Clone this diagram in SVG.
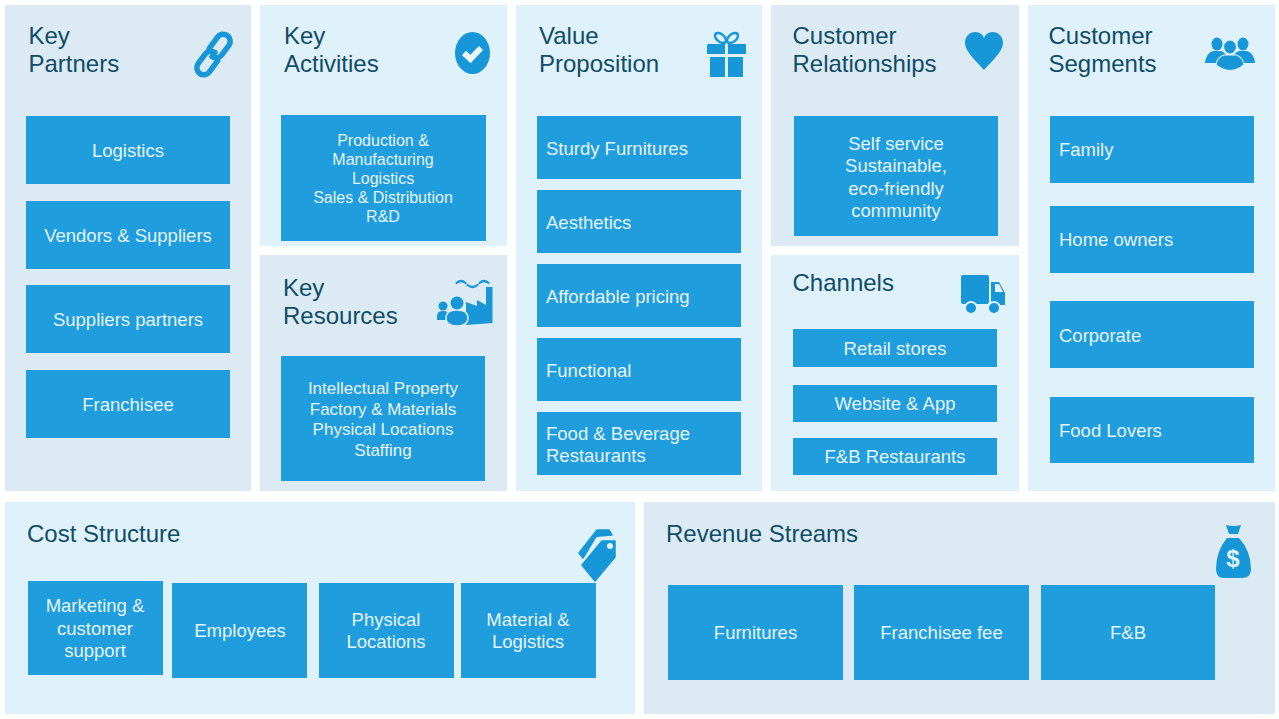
<svg xmlns="http://www.w3.org/2000/svg" width="1279" height="719" viewBox="0 0 1279 719">
<style>
.a{fill:#dcebf3}.b{fill:#dff1fa}
.box{fill:#1f9ddd}
.ic{fill:#1797d8}
text{font-family:"Liberation Sans",Arial,sans-serif}
.t{font-size:24px;fill:#0f4d68}
.l{font-size:18.5px;fill:#e4f4fc;text-anchor:middle}
.s{font-size:18.5px;fill:#e4f4fc}
</style>
<rect width="1279" height="719" fill="#fff"/>
<g id="key-partners">
<rect class="a" x="5" y="5" width="246" height="486"/>
<text class="t" x="28.500" y="44">Key</text><text class="t" x="28.500" y="72">Partners</text>
<g transform="rotate(36 213.500 54.500)" fill="none" stroke="#1797d8" stroke-width="5.500" stroke-linecap="round"><path d="M206.500 52V38a7 7 0 0 1 14 0V50a7 7 0 0 1-7 7"/><path d="M220.500 57V71a7 7 0 0 1-14 0V59a7 7 0 0 1 7-7"/></g>
<rect class="box" x="26" y="116" width="204" height="68"/><text class="l" x="128" y="157">Logistics</text>
<rect class="box" x="26" y="201" width="204" height="68"/><text class="l" x="128" y="241.500">Vendors &amp; Suppliers</text>
<rect class="box" x="26" y="285" width="204" height="68"/><text class="l" x="128" y="326">Suppliers partners</text>
<rect class="box" x="26" y="370" width="204" height="68"/><text class="l" x="128" y="410.500">Franchisee</text>
</g>
<g id="key-activities">
<rect class="b" x="260" y="5" width="247" height="241"/>
<text class="t" x="284" y="44">Key</text><text class="t" x="284" y="72">Activities</text>
<ellipse class="ic" cx="472.500" cy="53" rx="17.500" ry="21"/><path d="M464 53l6.500 6L481 48" fill="none" stroke="#e8f6fd" stroke-width="6"/>
<rect class="box" x="281" y="115" width="205" height="126"/>
<g class="l" style="font-size:16px"><text x="383" y="146">Production &amp;</text><text x="383" y="165">Manufacturing</text><text x="383" y="184">Logistics</text><text x="383" y="203">Sales &amp; Distribution</text><text x="383" y="222">R&amp;D</text></g>
</g>
<g id="key-resources">
<rect class="a" x="260" y="255" width="247" height="236"/>
<text class="t" x="283" y="296">Key</text><text class="t" x="283" y="324">Resources</text>
<path class="ic" d="M466 325V302l11 4v-6l9 5V287h6.500v36z"/>
<path d="M456.500 283q4.500-4 9 0M467.500 285q5 4 10 0M479.500 283q4.500-4 9 0" fill="none" stroke="#1797d8" stroke-width="2.200" stroke-linecap="round"/>
<circle class="ic" cx="443" cy="306" r="4.500"/><path class="ic" d="M437 320v-4q0-5 6-5t6 5v4z"/>
<path class="ic" stroke="#dcebf3" stroke-width="1.500" d="M446 318q0-8 11-8t11 8q0 8-11 8t-11-8z"/>
<circle class="ic" cx="457" cy="303" r="6.500"/>
<rect class="box" x="281" y="356" width="204" height="125"/>
<g class="l" style="font-size:17px"><text x="383" y="394">Intellectual Property</text><text x="383" y="415">Factory &amp; Materials</text><text x="383" y="435">Physical Locations</text><text x="383" y="456">Staffing</text></g>
</g>
<g id="value-proposition">
<rect class="b" x="516" y="5" width="246" height="486"/>
<text class="t" x="539" y="44">Value</text><text class="t" x="539" y="72">Proposition</text>
<path class="ic" d="M708 44h17v10h-18v-9zM728 44h17q1 0 1 1v9h-18zM710 57h15v20h-15zM728 57h15v20h-15z"/>
<g fill="none" stroke="#1797d8" stroke-width="2.500"><ellipse cx="720.500" cy="38" rx="6.500" ry="3.800" transform="rotate(40 720.500 38)"/><ellipse cx="732.500" cy="38" rx="6.500" ry="3.800" transform="rotate(-40 732.500 38)"/></g>
<rect class="box" x="537" y="116" width="204" height="63"/><text class="s" x="546" y="155">Sturdy Furnitures</text>
<rect class="box" x="537" y="190" width="204" height="63"/><text class="s" x="546" y="229">Aesthetics</text>
<rect class="box" x="537" y="264" width="204" height="63"/><text class="s" x="546" y="303">Affordable pricing</text>
<rect class="box" x="537" y="338" width="204" height="63"/><text class="s" x="546" y="377">Functional</text>
<rect class="box" x="537" y="412" width="204" height="63"/><text class="s" x="546" y="440">Food &amp; Beverage</text><text class="s" x="546" y="462">Restaurants</text>
</g>
<g id="customer-relationships">
<rect class="a" x="771" y="5" width="248" height="241"/>
<text class="t" x="792.500" y="44">Customer</text><text class="t" x="792.500" y="72">Relationships</text>
<path class="ic" d="M984 70C975 60 965 51 965 43C965 36 970 32 975 32C980 32 983 35 984 38C985 35 988 32 993 32C998 32 1003 36 1003 43C1003 51 993 60 984 70z"/>
<rect class="box" x="794" y="116" width="204" height="120"/>
<g class="l"><text x="896" y="150">Self service</text><text x="896" y="172">Sustainable,</text><text x="896" y="195">eco-friendly</text><text x="896" y="217">community</text></g>
</g>
<g id="channels">
<rect class="b" x="771" y="255" width="248" height="236"/>
<text class="t" x="792.500" y="291">Channels</text>
<rect class="ic" x="961" y="275" width="28" height="29" rx="2"/>
<path class="ic" d="M991 282h8l6 11v12h-14z"/>
<path d="M995 284h4l4 8h-8z" fill="#e2f3fb"/>
<circle class="b" cx="971" cy="308" r="7"/><circle class="b" cx="994" cy="308" r="7"/>
<circle class="ic" cx="971" cy="308" r="5"/><circle class="ic" cx="994" cy="308" r="5"/>
<rect class="box" x="793" y="329" width="204" height="38"/><text class="l" x="895" y="355">Retail stores</text>
<rect class="box" x="793" y="385" width="204" height="37"/><text class="l" x="895" y="410">Website &amp; App</text>
<rect class="box" x="793" y="438" width="204" height="37"/><text class="l" x="895" y="463">F&amp;B Restaurants</text>
</g>
<g id="customer-segments">
<rect class="b" x="1028" y="5" width="247" height="486"/>
<text class="t" x="1048.500" y="44">Customer</text><text class="t" x="1048.500" y="72">Segments</text>
<ellipse class="ic" cx="1217" cy="44" rx="5.500" ry="6.500"/><ellipse class="ic" cx="1243" cy="44" rx="5.500" ry="6.500"/>
<path class="ic" d="M1205 63q1-10 8-12h8q6 2 8 12zM1255 63q-1-10-8-12h-8q-6 2-8 12z"/>
<ellipse class="ic" cx="1230" cy="47" rx="6.500" ry="7" stroke="#dff1fa" stroke-width="1.200"/>
<path class="ic" stroke="#dff1fa" stroke-width="1.200" d="M1216 65q1-8 8-10h12q7 2 8 10-14 11-28 0z"/>
<rect class="box" x="1050" y="116" width="204" height="67"/><text class="s" x="1059" y="156">Family</text>
<rect class="box" x="1050" y="206" width="204" height="67"/><text class="s" x="1059" y="246">Home owners</text>
<rect class="box" x="1050" y="301" width="204" height="67"/><text class="s" x="1059" y="342">Corporate</text>
<rect class="box" x="1050" y="397" width="204" height="66"/><text class="s" x="1059" y="437">Food Lovers</text>
</g>
<g id="cost-structure">
<rect class="b" x="5" y="502" width="630" height="212"/>
<text class="t" x="27" y="542">Cost Structure</text>
<path class="ic" stroke="#1797d8" stroke-width="1.500" stroke-linejoin="round" d="M579 553l18-23h12l3 5-13 1q-3 0-4 2l-12 20z"/>
<path class="ic" stroke="#1797d8" stroke-width="1.500" stroke-linejoin="round" d="M582 565l20-24h13v16l-20 24z"/>
<circle cx="610" cy="546" r="3" fill="#e2f3fb"/>
<rect class="box" x="28" y="581" width="135" height="94"/>
<g class="l"><text x="95" y="612">Marketing &amp;</text><text x="95" y="635">customer</text><text x="95" y="657">support</text></g>
<rect class="box" x="172" y="583" width="135" height="95"/><text class="l" x="240" y="637">Employees</text>
<rect class="box" x="319" y="583" width="135" height="95"/><text class="l" x="386" y="626">Physical</text><text class="l" x="386" y="648">Locations</text>
<rect class="box" x="461" y="583" width="135" height="95"/><text class="l" x="528" y="626">Material &amp;</text><text class="l" x="528" y="648">Logistics</text>
</g>
<g id="revenue-streams">
<rect class="a" x="644" y="502" width="631" height="212"/>
<text class="t" x="666" y="542">Revenue Streams</text>
<path class="ic" d="M1226 525q7 2 15 0l-3 9h-9zM1227 538h12q12 13 12 31 0 9-9 9h-18q-8 0-8-9 0-18 11-31z"/>
<text x="1233" y="567" style="font-size:24px;font-weight:bold;fill:#e2f3fb;text-anchor:middle">$</text>
<rect class="box" x="668" y="585" width="175" height="95"/><text class="l" x="755.500" y="639">Furnitures</text>
<rect class="box" x="854" y="585" width="175" height="95"/><text class="l" x="941.500" y="639">Franchisee fee</text>
<rect class="box" x="1041" y="585" width="174" height="95"/><text class="l" x="1128" y="639">F&amp;B</text>
</g>
<g id="connectors"/>
</svg>
